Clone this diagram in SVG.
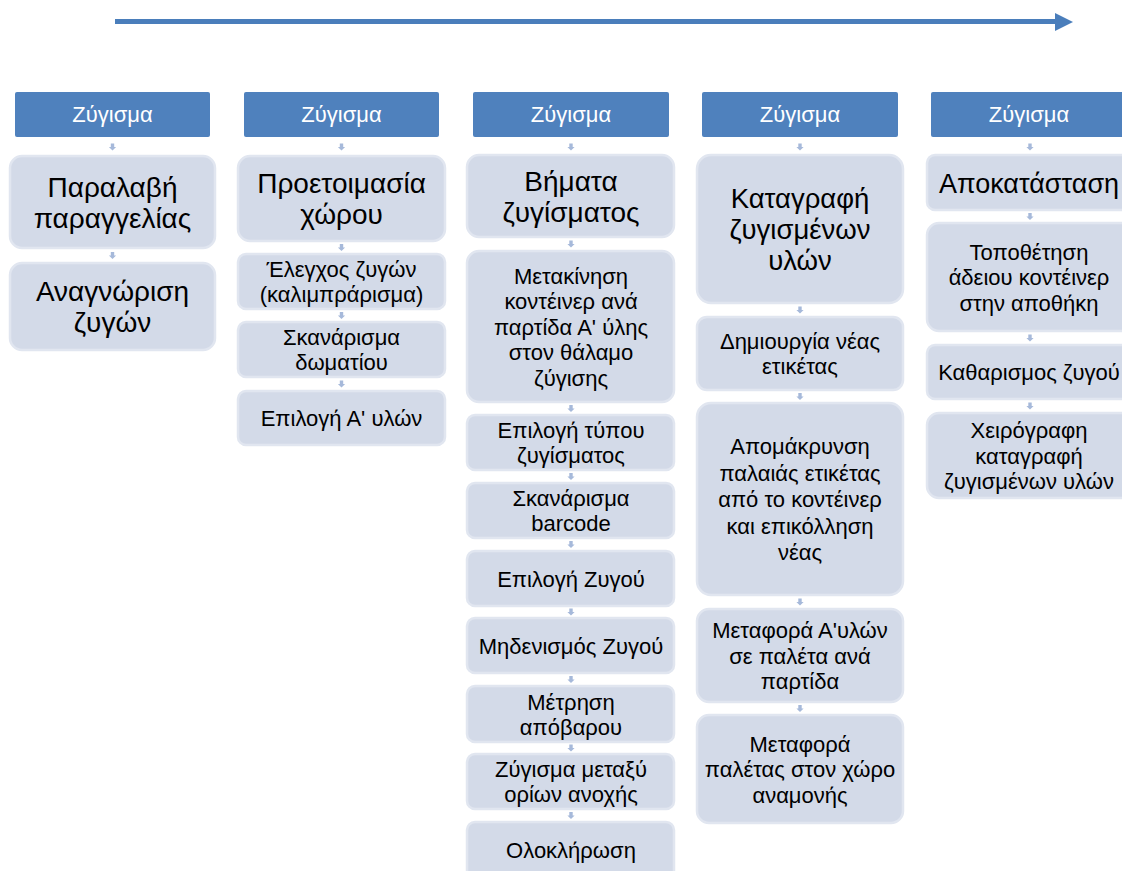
<svg xmlns="http://www.w3.org/2000/svg" width="1122" height="871" viewBox="0 0 1122 871">
<style>
.hdr{fill:#4F81BD}
.hdrt{fill:#FFFFFF;font-family:"Liberation Sans",Arial,sans-serif;font-size:22px;text-anchor:middle}
.box{fill:#D3DAE8;stroke:#E1E6F0;stroke-width:2.5}
.big{fill:#000;font-family:"Liberation Sans",Arial,sans-serif;font-size:28px;text-anchor:middle}
.mid{fill:#000;font-family:"Liberation Sans",Arial,sans-serif;font-size:27.5px;text-anchor:middle}
.sm{fill:#000;font-family:"Liberation Sans",Arial,sans-serif;font-size:22px;text-anchor:middle}
.ar{fill:#A6B9DA}
</style>
<defs>
<path id="da" d="M-1.7,-3.6 H1.7 V0 H3.6 L0,3.6 L-3.6,0 H-1.7 Z"/>
</defs>
<rect width="1122" height="871" fill="#FFFFFF"/>
<g id="timeline">
<line x1="115" y1="21.5" x2="1057" y2="21.5" stroke="#4A7EBB" stroke-width="5"/>
<polygon points="1055,13 1073,22 1055,31" fill="#4A7EBB"/>
</g>
<g id="connectors" class="ar">
<use href="#da" x="112.5" y="147"/>
<use href="#da" x="112.5" y="255.5"/>
<use href="#da" x="341.5" y="147"/>
<use href="#da" x="341.5" y="247.5"/>
<use href="#da" x="341.5" y="315.5"/>
<use href="#da" x="341.5" y="384"/>
<use href="#da" x="571" y="147"/>
<use href="#da" x="571" y="244"/>
<use href="#da" x="571" y="408.5"/>
<use href="#da" x="571" y="476.5"/>
<use href="#da" x="571" y="544.5"/>
<use href="#da" x="571" y="612"/>
<use href="#da" x="571" y="679.5"/>
<use href="#da" x="571" y="748"/>
<use href="#da" x="571" y="815.5"/>
<use href="#da" x="800" y="147"/>
<use href="#da" x="800" y="310"/>
<use href="#da" x="800" y="396.5"/>
<use href="#da" x="800" y="602"/>
<use href="#da" x="800" y="708.5"/>
<use href="#da" x="1030" y="147"/>
<use href="#da" x="1030" y="216.5"/>
<use href="#da" x="1030" y="338"/>
<use href="#da" x="1030" y="406"/>
</g>
<!-- Column 1 -->
<g id="h1"><rect class="hdr" x="15" y="92" width="195" height="45" rx="2"/><text class="hdrt" x="112.5" y="122">Ζύγισμα</text></g>
<g id="c1n1"><rect class="box" x="10" y="156" width="205" height="92" rx="12"/><text class="big" x="112.5" y="196.5">Παραλαβή</text><text class="big" x="112.5" y="227.5">παραγγελίας</text></g>
<g id="c1n2"><rect class="box" x="10" y="263" width="205" height="87" rx="12"/><text class="big" x="112.5" y="301">Αναγνώριση</text><text class="big" x="112.5" y="332">ζυγών</text></g>
<!-- Column 2 -->
<g id="h2"><rect class="hdr" x="244" y="92" width="195" height="45" rx="2"/><text class="hdrt" x="341.5" y="122">Ζύγισμα</text></g>
<g id="c2n1"><rect class="box" x="238" y="156" width="207" height="85" rx="12"/><text class="big" x="341.5" y="193">Προετοιμασία</text><text class="big" x="341.5" y="224">χώρου</text></g>
<g id="c2n2"><rect class="box" x="238" y="254" width="207" height="55" rx="8"/><text class="sm" x="341.5" y="277">Έλεγχος ζυγών</text><text class="sm" x="341.5" y="302">(καλιμπράρισμα)</text></g>
<g id="c2n3"><rect class="box" x="238" y="322" width="207" height="55" rx="8"/><text class="sm" x="341.5" y="345">Σκανάρισμα</text><text class="sm" x="341.5" y="370">δωματίου</text></g>
<g id="c2n4"><rect class="box" x="238" y="391" width="207" height="54" rx="8"/><text class="sm" x="341.5" y="426">Επιλογή Α' υλών</text></g>
<!-- Column 3 -->
<g id="h3"><rect class="hdr" x="473" y="92" width="196" height="45" rx="2"/><text class="hdrt" x="571" y="122">Ζύγισμα</text></g>
<g id="c3n1"><rect class="box" x="467" y="155" width="207" height="82" rx="12"/><text class="big" x="571" y="190.5">Βήματα</text><text class="big" x="571" y="221.5">ζυγίσματος</text></g>
<g id="c3n2"><rect class="box" x="467" y="251" width="207" height="151" rx="12"/><text class="sm" x="571" y="283.5">Μετακίνηση</text><text class="sm" x="571" y="309">κοντέινερ ανά</text><text class="sm" x="571" y="334.5">παρτίδα Α' ύλης</text><text class="sm" x="571" y="360">στον θάλαμο</text><text class="sm" x="571" y="385.5">ζύγισης</text></g>
<g id="c3n3"><rect class="box" x="467" y="415" width="207" height="55" rx="8"/><text class="sm" x="571" y="438">Επιλογή τύπου</text><text class="sm" x="571" y="463">ζυγίσματος</text></g>
<g id="c3n4"><rect class="box" x="467" y="483" width="207" height="55" rx="8"/><text class="sm" x="571" y="506">Σκανάρισμα</text><text class="sm" x="571" y="531">barcode</text></g>
<g id="c3n5"><rect class="box" x="467" y="551" width="207" height="55" rx="8"/><text class="sm" x="571" y="586.5">Επιλογή Ζυγού</text></g>
<g id="c3n6"><rect class="box" x="467" y="618" width="207" height="55" rx="8"/><text class="sm" x="571" y="653.5">Μηδενισμός Ζυγού</text></g>
<g id="c3n7"><rect class="box" x="467" y="686" width="207" height="56" rx="8"/><text class="sm" x="571" y="709.5">Μέτρηση</text><text class="sm" x="571" y="734.5">απόβαρου</text></g>
<g id="c3n8"><rect class="box" x="467" y="754" width="207" height="55" rx="8"/><text class="sm" x="571" y="777">Ζύγισμα μεταξύ</text><text class="sm" x="571" y="802">ορίων ανοχής</text></g>
<g id="c3n9"><rect class="box" x="467" y="822" width="207" height="56" rx="8"/><text class="sm" x="571" y="857.5">Ολοκλήρωση</text></g>
<!-- Column 4 -->
<g id="h4"><rect class="hdr" x="702" y="92" width="196" height="45" rx="2"/><text class="hdrt" x="800" y="122">Ζύγισμα</text></g>
<g id="c4n1"><rect class="box" x="697" y="155" width="206" height="148" rx="14"/><text class="mid" x="800" y="208">Καταγραφή</text><text class="mid" x="800" y="239">ζυγισμένων</text><text class="mid" x="800" y="270">υλών</text></g>
<g id="c4n2"><rect class="box" x="697" y="317" width="206" height="73" rx="10"/><text class="sm" x="800" y="349">Δημιουργία νέας</text><text class="sm" x="800" y="374">ετικέτας</text></g>
<g id="c4n3"><rect class="box" x="697" y="403" width="206" height="192" rx="14"/><text class="sm" x="800" y="454">Απομάκρυνση</text><text class="sm" x="800" y="480.5">παλαιάς ετικέτας</text><text class="sm" x="800" y="507">από το κοντέινερ</text><text class="sm" x="800" y="533.5">και επικόλληση</text><text class="sm" x="800" y="560">νέας</text></g>
<g id="c4n4"><rect class="box" x="697" y="609" width="206" height="93" rx="12"/><text class="sm" x="800" y="638">Μεταφορά Α'υλών</text><text class="sm" x="800" y="663.5">σε παλέτα ανά</text><text class="sm" x="800" y="689">παρτίδα</text></g>
<g id="c4n5"><rect class="box" x="697" y="715" width="206" height="108" rx="12"/><text class="sm" x="800" y="751.5">Μεταφορά</text><text class="sm" x="800" y="777">παλέτας στον χώρο</text><text class="sm" x="800" y="802.5">αναμονής</text></g>
<!-- Column 5 -->
<g id="h5"><rect class="hdr" x="931" y="92" width="196" height="45" rx="2"/><text class="hdrt" x="1029" y="122">Ζύγισμα</text></g>
<g id="c5n1"><rect class="box" x="927" y="155" width="206" height="55" rx="8"/><text class="big" x="1029" y="192.5" style="font-size:27px">Αποκατάσταση</text></g>
<g id="c5n2"><rect class="box" x="927" y="223" width="206" height="108" rx="12"/><text class="sm" x="1029" y="259.5">Τοποθέτηση</text><text class="sm" x="1029" y="285">άδειου κοντέινερ</text><text class="sm" x="1029" y="310.5">στην αποθήκη</text></g>
<g id="c5n3"><rect class="box" x="927" y="345" width="206" height="54" rx="8"/><text class="sm" x="1029" y="380">Καθαρισμος ζυγού</text></g>
<g id="c5n4"><rect class="box" x="927" y="413" width="206" height="85" rx="12"/><text class="sm" x="1029" y="438">Χειρόγραφη</text><text class="sm" x="1029" y="463.5">καταγραφή</text><text class="sm" x="1029" y="489">ζυγισμένων υλών</text></g>
</svg>
